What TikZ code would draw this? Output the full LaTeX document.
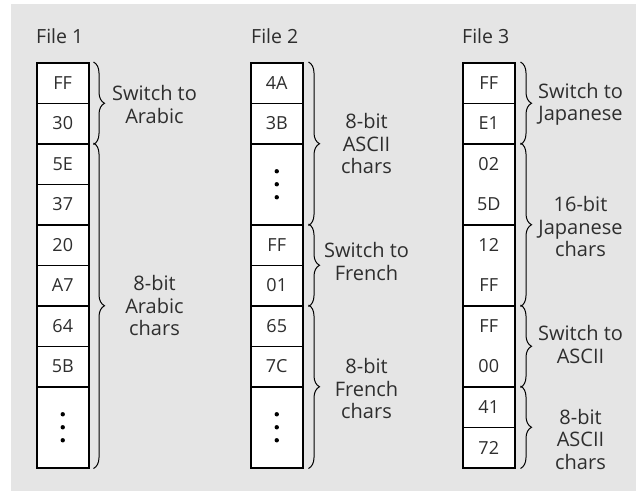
\documentclass[tikz,border=0pt]{standalone}
\usepackage{fontspec}
\setmainfont{Open Sans}
\usetikzlibrary{decorations.pathreplacing,calc}
\definecolor{bggray}{HTML}{E5E5E5}
\definecolor{txt}{HTML}{2E2E2E}
\begin{document}
\begin{tikzpicture}[x=1pt,y=-1pt,
  cell/.style={draw=black, line width=1.5pt, fill=white, minimum width=52pt, minimum height=40.5pt, inner sep=0pt, anchor=north west, font=\fontsize{18}{20}\selectfont, text=txt},
  cellx/.style={cell, minimum height=81pt},
  hexlbl/.style={font=\fontsize{18}{20}\selectfont, text=txt, inner sep=0pt},
  br/.style={decorate, decoration={brace, amplitude=11pt}, line width=1pt, draw=black},
  lbl/.style={font=\fontsize{20}{22.5}\selectfont, text=txt, align=center, inner sep=0pt},
  ftitle/.style={font=\fontsize{19.5}{22}\selectfont, text=txt, anchor=base west, inner sep=0pt},
  dotmark/.style={fill=black}]

\useasboundingbox (0,0) rectangle (636,491);
\fill[bggray] (11,4) rectangle (636,491);

% titles
\node[ftitle] (f1) at (36,43.5) {File 1};
\node[ftitle] (f2) at (251,43.5) {File 2};
\node[ftitle] (f3) at (462,43.5) {File 3};

% File 1
\node[cell] (a1) at (36,62) {FF};
\node[cell] (a2) at (36,102.5) {30};
\node[cell] (a3) at (36,143) {5E};
\node[cell] (a4) at (36,183.5) {37};
\node[cell] (a5) at (36,224) {20};
\node[cell] (a6) at (36,264.5) {A7};
\node[cell] (a7) at (36,305) {64};
\node[cell] (a8) at (36,345.5) {5B};
\node[cellx] (a9) at (36,386) {};
\foreach \d in {-13,0,13} \fill[dotmark] ([yshift=\d pt]a9.center) circle (2.2pt);

\draw[br] ([xshift=4pt]a1.north east) -- ([xshift=4pt]a2.south east);
\draw[br] ([xshift=4pt]a3.north east) -- ([xshift=4pt]a9.south east);
\node[lbl] (la1) at ([xshift=65pt,yshift=-1pt]$(a1.north east)!.5!(a2.south east)$) {Switch to\\Arabic};
\node[lbl] (la2) at ([xshift=65pt]$(a3.north east)!.5!(a9.south east)$) {8-bit\\Arabic\\chars};

% File 2
\node[cell] (b1) at (250,62) {4A};
\node[cell] (b2) at (250,102.5) {3B};
\node[cellx] (b3) at (250,143) {};
\foreach \d in {-13,0,13} \fill[dotmark] ([yshift=\d pt]b3.center) circle (2.2pt);
\node[cell] (b4) at (250,224) {FF};
\node[cell] (b5) at (250,264.5) {01};
\node[cell] (b6) at (250,305) {65};
\node[cell] (b7) at (250,345.5) {7C};
\node[cellx] (b8) at (250,386) {};
\foreach \d in {-13,0,13} \fill[dotmark] ([yshift=\d pt]b8.center) circle (2.2pt);

\draw[br] ([xshift=5pt]b1.north east) -- ([xshift=5pt]b3.south east);
\draw[br] ([xshift=5pt]b4.north east) -- ([xshift=5pt]b5.south east);
\draw[br] ([xshift=5pt]b6.north east) -- ([xshift=5pt]b8.south east);
\node[lbl] (lb1) at ([xshift=63pt]$(b1.north east)!.5!(b3.south east)$) {8-bit\\ASCII\\chars};
\node[lbl] (lb2) at ([xshift=63pt,yshift=4pt]$(b4.north east)!.5!(b5.south east)$) {Switch to\\French};
\node[lbl] (lb3) at ([xshift=63pt,yshift=-2pt]$(b6.north east)!.5!(b8.south east)$) {8-bit\\French\\chars};

% File 3
\node[cell] (c1) at (462,62) {FF};
\node[cell] (c2) at (462,102.5) {E1};
\node[cellx] (c3) at (462,143) {};
\node[hexlbl] (c3a) at ([yshift=20.25pt]c3.center) {02};
\node[hexlbl] (c3b) at ([yshift=-20.25pt]c3.center) {5D};
\node[cellx] (c4) at (462,224) {};
\node[hexlbl] (c4a) at ([yshift=20.25pt]c4.center) {12};
\node[hexlbl] (c4b) at ([yshift=-20.25pt]c4.center) {FF};
\node[cellx] (c5) at (462,305) {};
\node[hexlbl] (c5a) at ([yshift=20.25pt]c5.center) {FF};
\node[hexlbl] (c5b) at ([yshift=-20.25pt]c5.center) {00};
\node[cell] (c6) at (462,386) {41};
\node[cell] (c7) at (462,426.5) {72};

\draw[br] ([xshift=5pt]c1.north east) -- ([xshift=5pt]c2.south east);
\draw[br] ([xshift=5pt]c3.north east) -- ([xshift=5pt]c4.south east);
\draw[br] ([xshift=5pt]c5.north east) -- ([xshift=5pt]c5.south east);
\draw[br] ([xshift=5pt]c6.north east) -- ([xshift=5pt]c7.south east);
\node[lbl] (lc1) at ([xshift=65pt,yshift=-1pt]$(c1.north east)!.5!(c2.south east)$) {Switch to\\Japanese};
\node[lbl] (lc2) at ([xshift=65pt,yshift=-2pt]$(c3.north east)!.5!(c4.south east)$) {16-bit\\Japanese\\chars};
\node[lbl] (lc3) at ([xshift=65pt,yshift=2pt]$(c5.north east)!.5!(c5.south east)$) {Switch to\\ASCII};
\node[lbl] (lc4) at ([xshift=65pt,yshift=-12pt]$(c6.north east)!.5!(c7.south east)$) {8-bit\\ASCII\\chars};
\end{tikzpicture}
\end{document}
